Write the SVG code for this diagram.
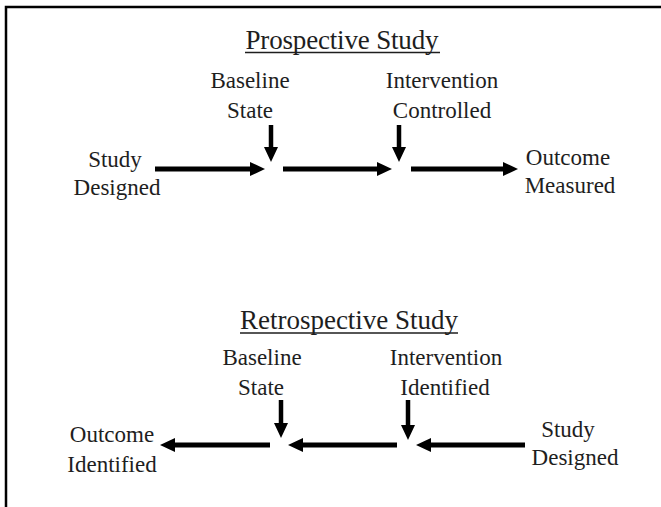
<svg xmlns="http://www.w3.org/2000/svg" width="661" height="507" viewBox="0 0 661 507">
  <style>
    text { font-family: "Liberation Serif", "Times New Roman", serif; fill: #1e1e1e; text-anchor: middle; }
    .title { font-size: 27px; }
    .lbl { font-size: 23px; }
    .ul { stroke: #1e1e1e; stroke-width: 1.6; }
    .h { stroke: #000; stroke-width: 5; fill: none; }
    .v { stroke: #000; stroke-width: 4.5; fill: none; }
    .border { stroke: #000; stroke-width: 2.5; fill: none; }
  </style>
  <defs>
    <marker id="head" markerUnits="userSpaceOnUse" markerWidth="15" markerHeight="14" refX="5" refY="7" orient="auto">
      <path d="M0,0 L15,7 L0,14 z" fill="#000"/>
    </marker>
  </defs>
  <rect width="661" height="507" fill="#fff"/>
  <path class="border" d="M6,507 L6,7 L661,7"/>

  <g id="prospective-title">
    <text class="title" x="342" y="49" textLength="193">Prospective Study</text>
    <line class="ul" x1="245" y1="52.5" x2="440" y2="52.5"/>
  </g>
  <g id="p-study-designed">
    <text class="lbl" x="115" y="167">Study</text>
    <text class="lbl" x="117" y="195">Designed</text>
  </g>
  <g id="p-baseline-state">
    <text class="lbl" x="250" y="88">Baseline</text>
    <text class="lbl" x="250" y="118">State</text>
  </g>
  <g id="p-intervention-controlled">
    <text class="lbl" x="442" y="88">Intervention</text>
    <text class="lbl" x="442" y="118">Controlled</text>
  </g>
  <g id="p-outcome-measured">
    <text class="lbl" x="568" y="165">Outcome</text>
    <text class="lbl" x="570" y="193">Measured</text>
  </g>

  <g id="retrospective-title">
    <text class="title" x="349" y="329" textLength="218">Retrospective Study</text>
    <line class="ul" x1="240" y1="333" x2="458" y2="333"/>
  </g>
  <g id="r-outcome-identified">
    <text class="lbl" x="112" y="442">Outcome</text>
    <text class="lbl" x="112" y="472">Identified</text>
  </g>
  <g id="r-baseline-state">
    <text class="lbl" x="262" y="365">Baseline</text>
    <text class="lbl" x="261" y="395">State</text>
  </g>
  <g id="r-intervention-identified">
    <text class="lbl" x="446" y="365">Intervention</text>
    <text class="lbl" x="445" y="395">Identified</text>
  </g>
  <g id="r-study-designed">
    <text class="lbl" x="568" y="437">Study</text>
    <text class="lbl" x="575" y="465">Designed</text>
  </g>

  <g id="connectors">
    <line class="h" x1="155" y1="169" x2="255" y2="169" marker-end="url(#head)"/>
    <line class="h" x1="283" y1="169" x2="382" y2="169" marker-end="url(#head)"/>
    <line class="h" x1="411" y1="169" x2="508" y2="169" marker-end="url(#head)"/>
    <line class="v" x1="271" y1="125" x2="271" y2="152" marker-end="url(#head)"/>
    <line class="v" x1="399" y1="125" x2="399" y2="152" marker-end="url(#head)"/>

    <line class="h" x1="270" y1="445" x2="170" y2="445" marker-end="url(#head)"/>
    <line class="h" x1="397" y1="445" x2="298" y2="445" marker-end="url(#head)"/>
    <line class="h" x1="525" y1="445" x2="426" y2="445" marker-end="url(#head)"/>
    <line class="v" x1="281" y1="400" x2="281" y2="428" marker-end="url(#head)"/>
    <line class="v" x1="408" y1="400" x2="408" y2="430" marker-end="url(#head)"/>
  </g>
</svg>
